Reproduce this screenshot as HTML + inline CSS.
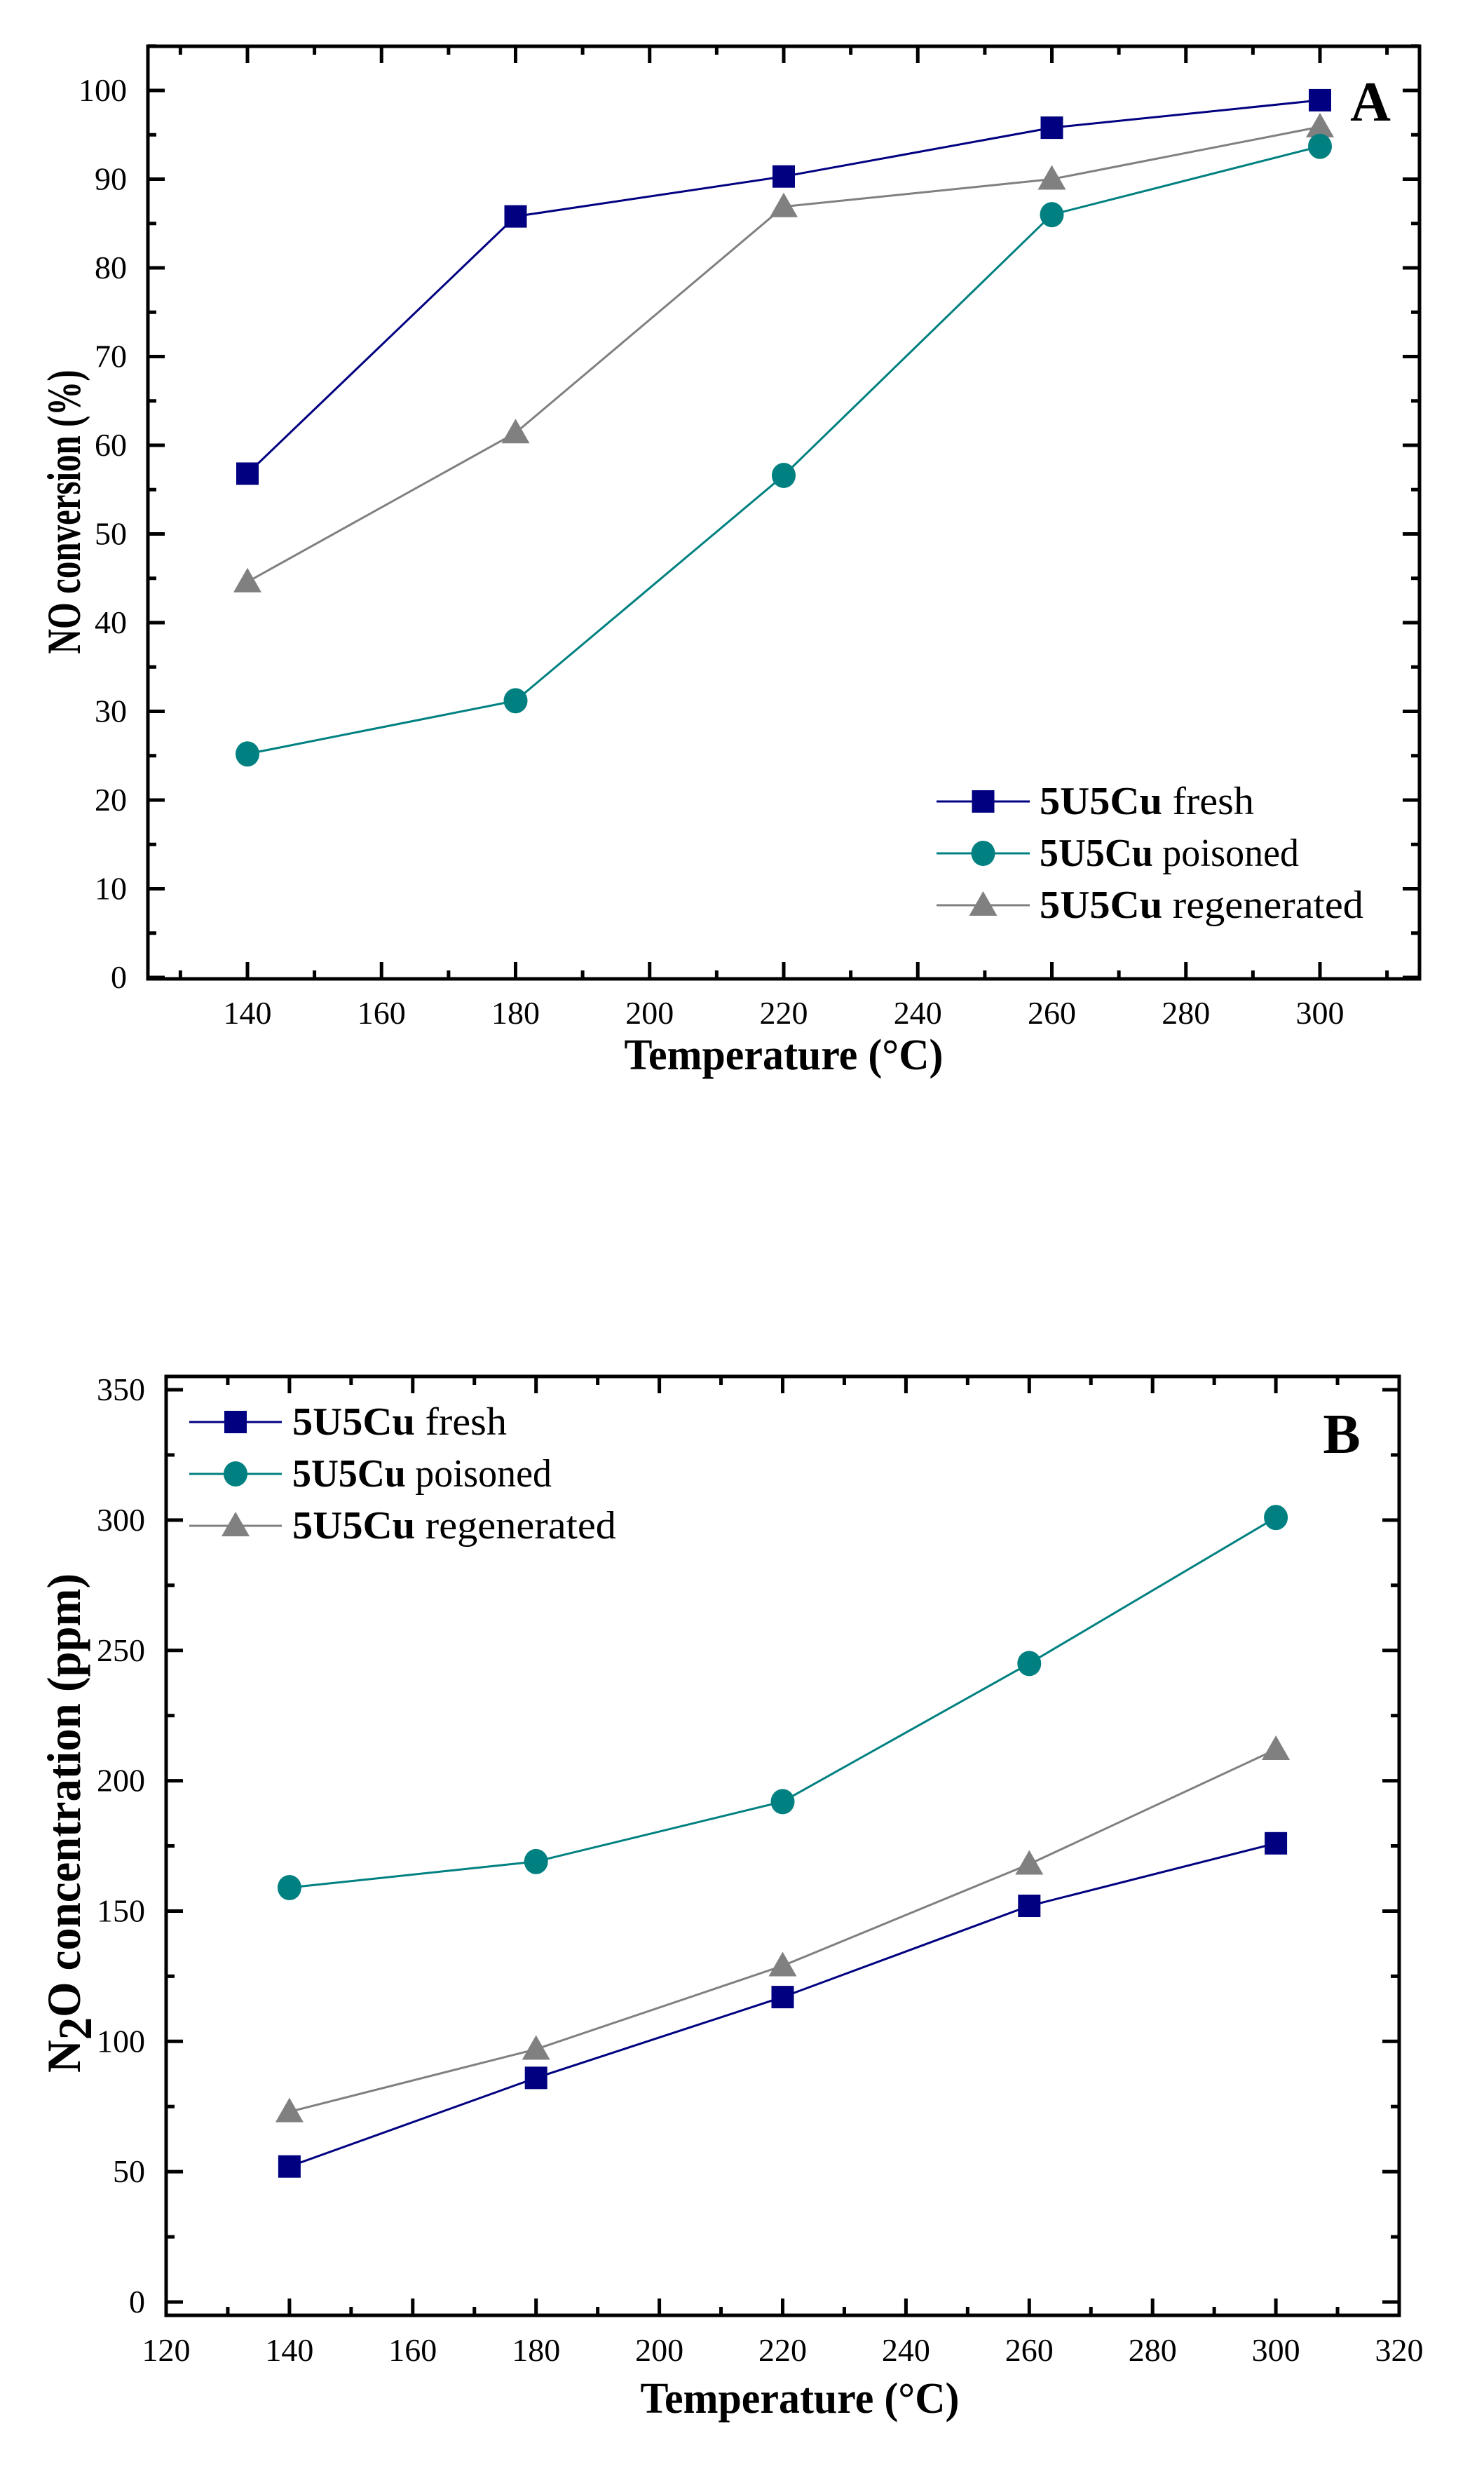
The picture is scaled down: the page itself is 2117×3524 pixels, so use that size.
<!DOCTYPE html>
<html><head><meta charset="utf-8"><style>
html,body{margin:0;padding:0;background:#fff;}
svg{display:block;}
text{font-family:"Liberation Serif",serif;}
</style></head><body>
<svg id="s" width="2117" height="3524" viewBox="0 0 2117 3524" xmlns="http://www.w3.org/2000/svg"></svg>
<script>
const NS="http://www.w3.org/2000/svg";const S=document.getElementById('s');
function el(t,a,txt){const e=document.createElementNS(NS,t);for(const k in a)e.setAttribute(k,a[k]);if(txt!==undefined)e.textContent=txt;S.appendChild(e);return e;}
const C={f:'#000080',p:'#008080',r:'#808080'};
function marker(kind,x,y){
 if(kind==='f')el('rect',{x:x-16,y:y-16,width:32,height:32,fill:C.f});
 else if(kind==='p')el('ellipse',{cx:x,cy:y,rx:17,ry:18,fill:C.p});
 else el('polygon',{points:`${x},${y-20} ${x-20},${y+15} ${x+20},${y+15}`,fill:C.r});
}
function plot(o){
 const X=v=>o.x0+(v-o.xv0)*o.xs, Y=v=>o.y0-v*o.ys;
 for(let v=o.xmin;v<=o.xmax;v+=o.xminor){const major=((v-o.xmaj0)%o.xmajor)===0;const L=major?24:12;const x=X(v);
  el('line',{x1:x,y1:o.B,x2:x,y2:o.B-L,stroke:'#000','stroke-width':5});
  el('line',{x1:x,y1:o.T,x2:x,y2:o.T+L,stroke:'#000','stroke-width':5});
  if(major)el('text',{x:x,y:o.xly,'font-size':46,'text-anchor':'middle'},String(v));}
 for(let v=o.ymin;v<=o.ymax;v+=o.yminor){const major=(v%o.ymajor)===0;const L=major?24:12;const y=Y(v);
  el('line',{x1:o.L,y1:y,x2:o.L+L,y2:y,stroke:'#000','stroke-width':5});
  el('line',{x1:o.R,y1:y,x2:o.R-L,y2:y,stroke:'#000','stroke-width':5});
  if(major)el('text',{x:o.L-30,y:y+15,'font-size':46,'text-anchor':'end'},String(v));}
 el('rect',{x:o.L,y:o.T,width:o.R-o.L,height:o.B-o.T,fill:'none',stroke:'#000','stroke-width':5});
 const xs=[140,180,220,260,300];
 ['r','p','f'].forEach(k=>{const d=o.data[k];
  el('polyline',{points:xs.map((v,i)=>X(v)+','+Y(d[i])).join(' '),fill:'none',stroke:C[k],'stroke-width':3});
  xs.forEach((v,i)=>marker(k,X(v),Y(d[i])));});
 const names={f:'fresh',p:'poisoned',r:'regenerated'};
 ['f','p','r'].forEach((k,i)=>{const y=o.lg.y+i*74;
  el('line',{x1:o.lg.x1,y1:y,x2:o.lg.x2,y2:y,stroke:C[k],'stroke-width':3});
  marker(k,(o.lg.x1+o.lg.x2)/2,y);
  const t=el('text',{x:o.lg.tx,y:y+18,'font-size':56,textLength:o.lg.w[i],lengthAdjust:'spacingAndGlyphs'});
  const b=document.createElementNS(NS,'tspan');b.setAttribute('font-weight','bold');b.textContent='5U5Cu';t.appendChild(b);
  t.appendChild(document.createTextNode(' '+names[k]));});
 el('text',{x:o.letter[0],y:o.letter[1],'font-size':80,'font-weight':'bold','text-anchor':'middle'},o.letter[2]);
 el('text',{x:o.xt[0],y:o.xt[1],'font-size':62,'font-weight':'bold','text-anchor':'middle',textLength:455,lengthAdjust:'spacingAndGlyphs'},'Temperature (°C)');
}
plot({x0:353,xv0:140,xs:9.5625,y0:1394,ys:12.65,L:211,R:2025,T:66,B:1396,
 xmin:130,xmax:310,xminor:10,xmajor:20,xmaj0:140,xly:1460,ymin:0,ymax:105,yminor:5,ymajor:10,
 data:{f:[56.8,85.8,90.3,95.8,98.9],p:[25.2,31.2,56.6,86.0,93.7],r:[44.6,61.4,86.9,90.0,95.9]},
 lg:{x1:1336,x2:1469,tx:1483,y:1143,w:[306,370,462]},letter:[1955,172,'A'],xt:[1118,1525]});
plot({x0:237,xv0:120,xs:8.795,y0:3283,ys:3.717,L:237,R:1996,T:1963,B:3302,
 xmin:120,xmax:320,xminor:10,xmajor:20,xmaj0:120,xly:3367,ymin:0,ymax:350,yminor:25,ymajor:50,
 data:{f:[52,86,117,152,176],p:[159,169,192,245,301],r:[73,97,129,168,212]},
 lg:{x1:270,x2:402,tx:417,y:2028,w:[306,370,462]},letter:[1914,2072,'B'],xt:[1141,3441]});
el('text',{x:0,y:0,'font-size':68,'font-weight':'bold','text-anchor':'middle',transform:'translate(114,730) rotate(-90)',textLength:405,lengthAdjust:'spacingAndGlyphs'},'NO conversion (%)');
let t=el('text',{x:0,y:0,'font-size':68,'font-weight':'bold','text-anchor':'middle',transform:'translate(114,2600) rotate(-90)',textLength:712,lengthAdjust:'spacingAndGlyphs'});
t.appendChild(document.createTextNode('N'));
const sub=document.createElementNS(NS,'tspan');sub.setAttribute('dy','16');sub.textContent='2';t.appendChild(sub);
const rest=document.createElementNS(NS,'tspan');rest.setAttribute('dy','-16');rest.textContent='O concentration (ppm)';t.appendChild(rest);
</script>
</body></html>
